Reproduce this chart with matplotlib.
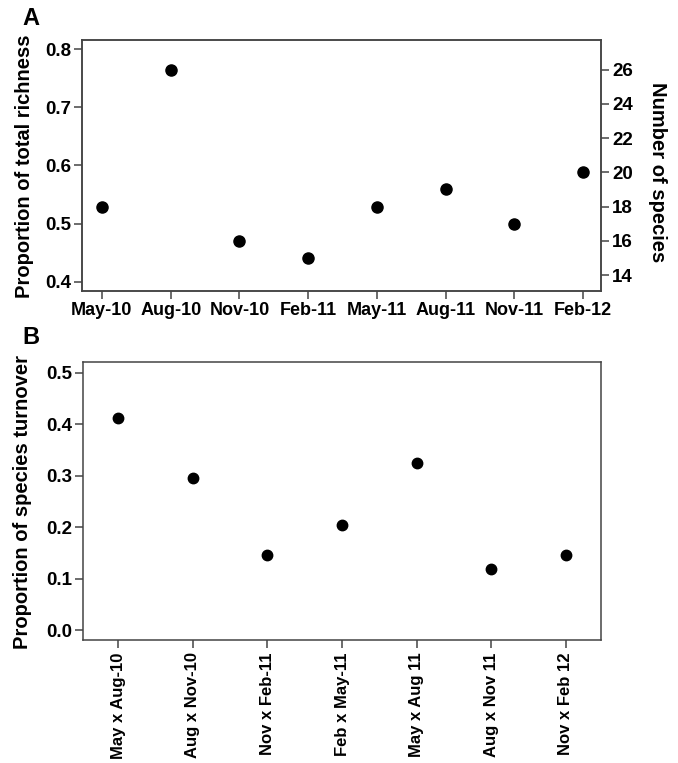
import matplotlib
matplotlib.use("Agg")
import matplotlib.pyplot as plt

plt.rcParams['font.family'] = ['Liberation Sans', 'DejaVu Sans']
plt.rcParams['font.weight'] = 'bold'

# ---- data ----
dates_a = ["May-10", "Aug-10", "Nov-10", "Feb-11", "May-11", "Aug-11", "Nov-11", "Feb-12"]
species_a = [18, 26, 16, 15, 18, 19, 17, 20]
total_richness = 34
proportion_a = [s / total_richness for s in species_a]

pairs_b = ["May x Aug-10", "Aug x Nov-10", "Nov x Feb-11", "Feb x May-11",
           "May x Aug 11", "Aug x Nov 11", "Nov x Feb 12"]
turnover_b = [0.413, 0.296, 0.147, 0.205, 0.324, 0.118, 0.147]

W, H = 678, 763
fig = plt.figure(figsize=(W / 100, H / 100), dpi=100)

def px_axes(l, t, r, b):
    return fig.add_axes([l / W, 1 - b / H, (r - l) / W, (b - t) / H])

spine_c = '#444444'

def style(ax, ysize=13.5, xsize=13):
    for s in ax.spines.values():
        s.set_color(spine_c)
        s.set_linewidth(1.1)
    ax.tick_params(direction='out', length=6, width=1.1, color=spine_c, pad=2)
    ax.tick_params(axis='y', labelsize=ysize)
    ax.tick_params(axis='x', labelsize=xsize)
    for lab in ax.get_xticklabels() + ax.get_yticklabels():
        lab.set_fontweight('bold')

# ---- Panel A ----
axA = px_axes(82, 40, 601, 291)
xa = list(range(1, len(dates_a) + 1))
axA.plot(xa, proportion_a, 'o', color='black', markersize=8, linestyle='none')
axA.set_xlim(0.71, 8.26)
axA.set_ylim(0.3845, 0.8155)
axA.set_yticks([0.4, 0.5, 0.6, 0.7, 0.8])
axA.set_yticklabels(["0.4", "0.5", "0.6", "0.7", "0.8"])
axA.set_xticks(xa)
axA.set_xticklabels(dates_a)
style(axA)

axA2 = axA.twinx()
axA2.set_ylim(0.3845 * total_richness, 0.8155 * total_richness)
axA2.set_yticks([14, 16, 18, 20, 22, 24, 26])
style(axA2)

fig.text(25 / W, 1 - 166 / H, "Proportion of total richness", rotation=90,
         ha='center', va='center', fontsize=14.5, fontweight='bold')
fig.text(657 / W, 1 - 172 / H, "Number of species", rotation=270,
         ha='center', va='center', fontsize=14.5, fontweight='bold')
fig.text(22 / W, 1 - 25 / H, "A", ha='left', va='baseline',
         fontsize=17, fontweight='bold')

# ---- Panel B ----
axB = px_axes(83, 362, 601, 640)
xb = list(range(1, len(pairs_b) + 1))
axB.plot(xb, turnover_b, 'o', color='black', markersize=7.5, linestyle='none')
axB.set_xlim(0.53, 7.47)
axB.set_ylim(-0.019, 0.521)
axB.set_yticks([0.0, 0.1, 0.2, 0.3, 0.4, 0.5])
axB.set_yticklabels(["0.0", "0.1", "0.2", "0.3", "0.4", "0.5"])
axB.set_xticks(xb)
axB.set_xticklabels(pairs_b, rotation=90)
style(axB, ysize=13.5, xsize=12)
axB.tick_params(axis='x', pad=3)

fig.text(23 / W, 1 - 502 / H, "Proportion of species turnover", rotation=90,
         ha='center', va='center', fontsize=14.5, fontweight='bold')
fig.text(22 / W, 1 - 344 / H, "B", ha='left', va='baseline',
         fontsize=17, fontweight='bold')

fig.savefig("out.png", dpi=100)
